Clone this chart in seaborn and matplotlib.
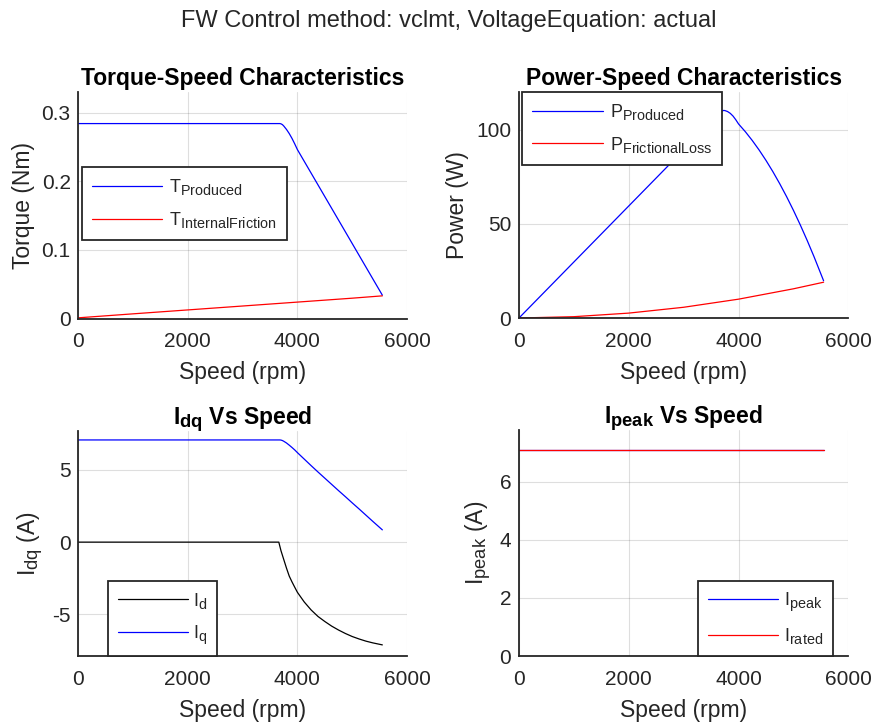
import matplotlib
matplotlib.use("Agg")
import matplotlib.pyplot as plt
import matplotlib._mathtext as _mt
from matplotlib import font_manager as fm
import seaborn as sns

# ---------------- data ----------------
speed_rpm = [0, 1000, 2000, 3000, 3500, 3660, 3680, 3700, 3725, 3750, 3800, 3850,
             3900, 3950, 4000, 4125, 4250, 4375, 4500, 4625, 4750, 4875, 5000,
             5125, 5250, 5375, 5550]
torque_produced = [0.284, 0.284, 0.284, 0.284, 0.284, 0.284, 0.284, 0.2836, 0.2825,
                   0.2805, 0.2755, 0.2695, 0.2625, 0.2545, 0.246, 0.2289, 0.2118,
                   0.1947, 0.1776, 0.1605, 0.1434, 0.1263, 0.1092, 0.0921, 0.0750,
                   0.0579, 0.034]
power_produced = [0, 29.74, 59.48, 89.22, 104.09, 108.85, 109.44, 109.88, 110.2,
                  110.15, 109.63, 108.65, 107.21, 105.27, 103.04, 98.88, 94.26,
                  89.2, 83.69, 77.74, 71.33, 64.48, 57.18, 49.43, 41.23, 32.59,
                  19.76]
i_d = [0, 0, 0, 0, 0, 0, -0.3, -0.6, -0.9, -1.2, -1.8, -2.35, -2.75, -3.12,
       -3.48, -4.15, -4.7, -5.15, -5.5, -5.82, -6.09, -6.33, -6.54, -6.71, -6.86,
       -6.98, -7.12]
i_q = [7.08, 7.08, 7.08, 7.08, 7.08, 7.08, 7.08, 7.07, 7.04, 6.99, 6.87, 6.72,
       6.56, 6.39, 6.2, 5.75, 5.3, 4.86, 4.43, 4.0, 3.57, 3.15, 2.72, 2.3, 1.87,
       1.44, 0.85]

friction_speed = [0, 1000, 2000, 3000, 4000, 5000, 5550]
torque_friction = [0.001, 0.0068, 0.0125, 0.0182, 0.0239, 0.0296, 0.033]
power_friction = [0, 0.7, 2.6, 5.7, 10.0, 15.5, 19.0]

peak_speed = [0, 1000, 2000, 3000, 4000, 5000, 5550]
i_peak = [7.08, 7.08, 7.08, 7.08, 7.08, 7.08, 7.08]
i_rated = [7.08, 7.08, 7.08, 7.08, 7.08, 7.08, 7.08]

suptitle_text = "FW Control method: vclmt, VoltageEquation: actual"

# ---------------- style ----------------
sns.set_theme(style="white")
names = {f.name for f in fm.fontManager.ttflist}
base = "Liberation Sans" if "Liberation Sans" in names else "DejaVu Sans"
plt.rcParams["font.family"] = [base, "DejaVu Sans"]
plt.rcParams["mathtext.fontset"] = "custom"
plt.rcParams["mathtext.rm"] = base
plt.rcParams["mathtext.it"] = base + ":italic"
plt.rcParams["mathtext.bf"] = base + ":bold"
plt.rcParams["axes.unicode_minus"] = False
_mt.SHRINK_FACTOR = 0.8

AX_COL = "#262626"
TICK_FS = 15
LAB_FS = 16.5
LEG_FS = 13

W, H = 873, 724
fig = plt.figure(figsize=(W / 100, H / 100), dpi=100)


def add_ax(left, top, right, bottom):
    return fig.add_axes([left / W, 1 - bottom / H, (right - left) / W, (bottom - top) / H])


def style(ax, xlabel, ylabel, title, yticks, yticklabels, ylim):
    ax.set_xlim(0, 6000)
    ax.set_ylim(*ylim)
    ax.set_xticks([0, 2000, 4000, 6000])
    ax.set_xticklabels(["0", "2000", "4000", "6000"])
    ax.set_yticks(yticks)
    ax.set_yticklabels(yticklabels)
    for s in ["top", "right"]:
        ax.spines[s].set_visible(False)
    for s in ["left", "bottom"]:
        ax.spines[s].set_color(AX_COL)
        ax.spines[s].set_linewidth(1.3)
    ax.grid(True, color=AX_COL, alpha=0.15, linewidth=0.8)
    ax.set_axisbelow(True)
    ax.tick_params(axis="both", direction="in", length=4, width=0.9, color=AX_COL,
                   labelcolor=AX_COL, labelsize=TICK_FS)
    ax.tick_params(axis="x", pad=10)
    ax.tick_params(axis="y", pad=5.5)
    ax.set_xlabel(xlabel, fontsize=LAB_FS, color=AX_COL, labelpad=7)
    ax.set_ylabel(ylabel, fontsize=LAB_FS, color=AX_COL, labelpad=5)
    ax.set_title(title, fontsize=LAB_FS, fontweight="bold", color="black", pad=5)


def legend(ax, loc, anchor, tpad=0.4):
    leg = ax.legend(loc=loc, bbox_to_anchor=anchor, borderaxespad=0, fontsize=LEG_FS,
                    frameon=True, fancybox=False, framealpha=1, edgecolor=AX_COL,
                    handlelength=3.9, handletextpad=tpad, borderpad=0.55,
                    labelspacing=0.7)
    leg.get_frame().set_linewidth(1.3)
    for t in leg.get_texts():
        t.set_color(AX_COL)
    return leg


LW = 0.9

# ---- Torque-Speed ----
ax1 = add_ax(78.3, 92, 407, 318.5)
sns.lineplot(x=speed_rpm, y=torque_produced, color="#0000ff", lw=LW, ax=ax1,
             estimator=None, sort=False, label=r"T$_{\mathrm{Produced}}$")
sns.lineplot(x=friction_speed, y=torque_friction, color="#ff0000", lw=LW, ax=ax1,
             estimator=None, sort=False, label=r"T$_{\mathrm{InternalFriction}}$")
style(ax1, "Speed (rpm)", "Torque (Nm)", "Torque-Speed Characteristics",
      [0, 0.1, 0.2, 0.3], ["0", "0.1", "0.2", "0.3"], (0, 0.33))
legend(ax1, "upper left", (0.0103, 0.6675))

# ---- Power-Speed ----
ax2 = add_ax(519, 92, 848.3, 318)
sns.lineplot(x=speed_rpm, y=power_produced, color="#0000ff", lw=LW, ax=ax2,
             estimator=None, sort=False, label=r"P$_{\mathrm{Produced}}$")
sns.lineplot(x=friction_speed, y=power_friction, color="#ff0000", lw=LW, ax=ax2,
             estimator=None, sort=False, label=r"P$_{\mathrm{FrictionalLoss}}$")
style(ax2, "Speed (rpm)", "Power (W)", "Power-Speed Characteristics",
      [0, 50, 100], ["0", "50", "100"], (0, 120))
legend(ax2, "upper left", (0.010, 0.999))

# ---- Idq vs Speed ----
ax3 = add_ax(78.3, 431, 407, 656)
sns.lineplot(x=speed_rpm, y=i_d, color="black", lw=LW, ax=ax3,
             estimator=None, sort=False, label=r"I$_{\mathrm{d}}$")
sns.lineplot(x=speed_rpm, y=i_q, color="#0000ff", lw=LW, ax=ax3,
             estimator=None, sort=False, label=r"I$_{\mathrm{q}}$")
style(ax3, "Speed (rpm)", r"I$_{\mathrm{dq}}$ (A)", r"I$_{\mathbf{dq}}$ Vs Speed",
      [-5, 0, 5], ["-5", "0", "5"], (-7.89, 7.70))
legend(ax3, "lower left", (0.0894, 0.0), tpad=0.25)

# ---- Ipeak vs Speed ----
ax4 = add_ax(519, 430, 848.3, 656)
sns.lineplot(x=peak_speed, y=i_peak, color="#0000ff", lw=LW, ax=ax4,
             estimator=None, sort=False, label=r"I$_{\mathrm{peak}}$")
sns.lineplot(x=peak_speed, y=i_rated, color="#ff0000", lw=LW, ax=ax4,
             estimator=None, sort=False, label=r"I$_{\mathrm{rated}}$")
style(ax4, "Speed (rpm)", r"I$_{\mathrm{peak}}$ (A)", r"I$_{\mathbf{peak}}$ Vs Speed",
      [0, 2, 4, 6], ["0", "2", "4", "6"], (0, 7.78))
legend(ax4, "lower right", (0.9526, 0.0), tpad=0.3)

fig.text(0.514, 1 - 27 / H, suptitle_text, ha="center", va="baseline",
         fontsize=17, color=AX_COL)

fig.savefig("out.png", dpi=100)
